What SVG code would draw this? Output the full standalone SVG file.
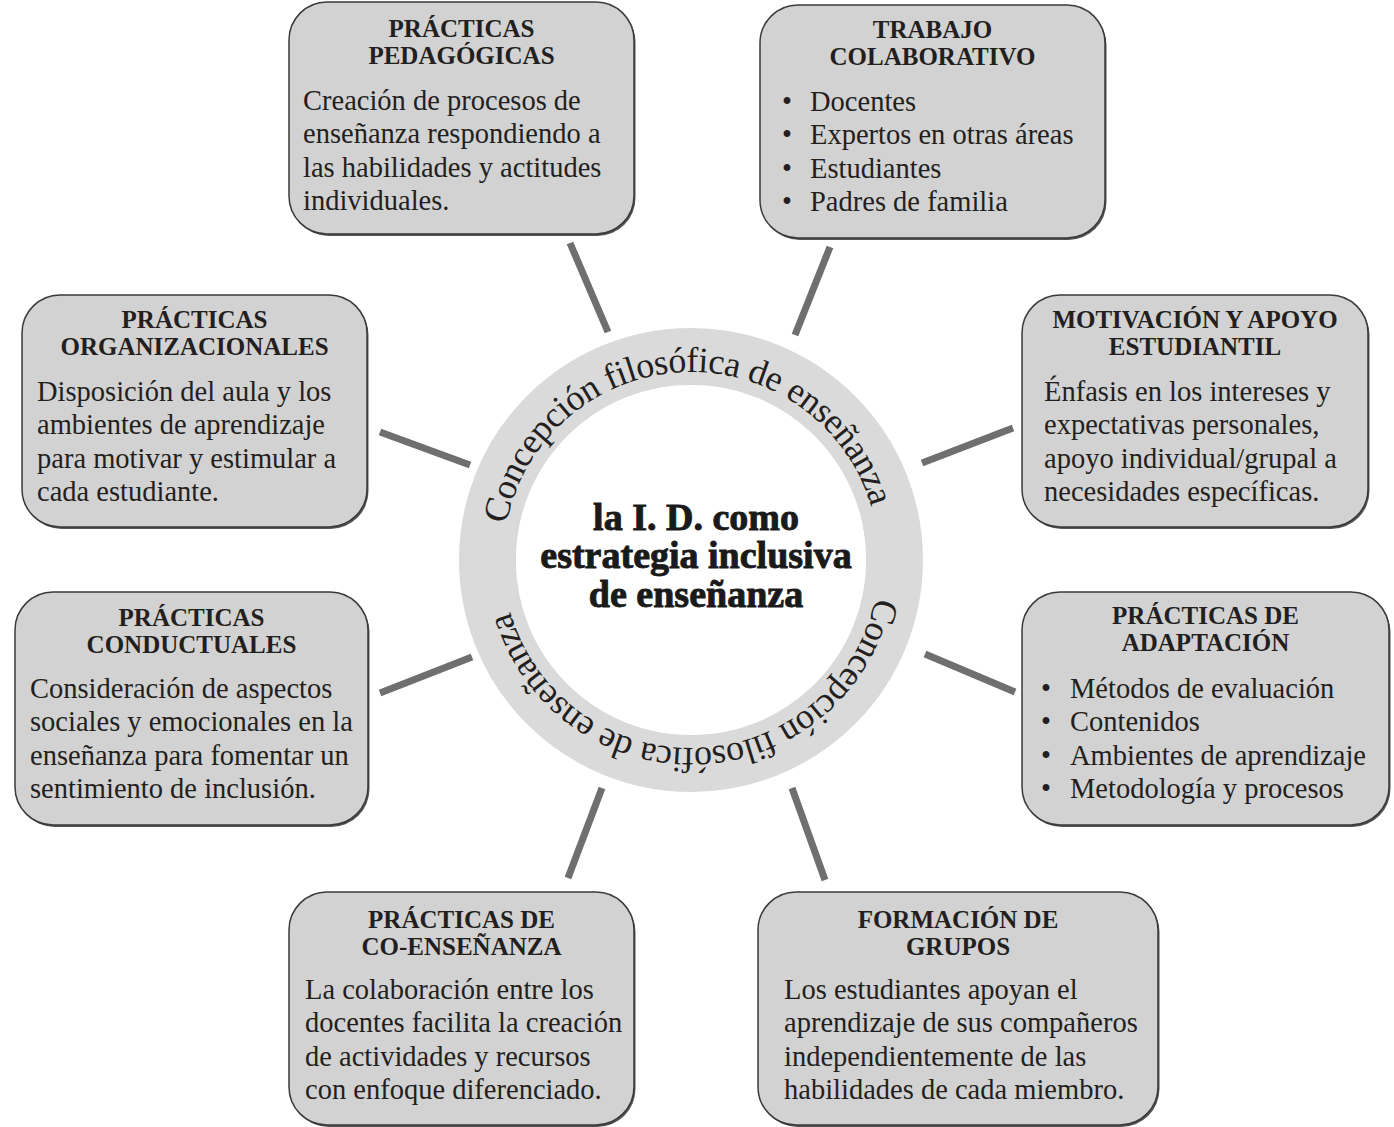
<svg xmlns="http://www.w3.org/2000/svg" width="1394" height="1127" viewBox="0 0 1394 1127">
<style>
.box{fill:#d2d2d2;stroke:#3a3a3a;stroke-width:1.5}
.sh{fill:#555}
.t{font-family:"Liberation Serif",serif;font-weight:bold;font-size:25px;fill:#231f20;text-anchor:middle}
.b{font-family:"Liberation Serif",serif;font-size:28.5px;fill:#231f20}
.conn line{stroke:#6f6f6f;stroke-width:7;stroke-linecap:butt}
.ring{font-family:"Liberation Serif",serif;font-size:36px;letter-spacing:-0.5px;fill:#231f20}
.ctr{font-family:"Liberation Serif",serif;font-weight:bold;font-size:38px;fill:#1a1a1a;stroke:#1a1a1a;stroke-width:0.9;text-anchor:middle}
</style>
<defs>
<path id="ringpath" d="M 503,560 A 188 188 0 1 1 879,560 A 188 188 0 1 1 503,560"/>
</defs>
<rect width="1394" height="1127" fill="#ffffff"/>

<g id="connectors" class="conn">
<line x1="570" y1="243" x2="608" y2="332"/>
<line x1="830" y1="247" x2="795" y2="335"/>
<line x1="1013" y1="428" x2="922" y2="463"/>
<line x1="925" y1="654" x2="1015" y2="692"/>
<line x1="792" y1="788" x2="825" y2="880"/>
<line x1="602" y1="788" x2="568" y2="878"/>
<line x1="472" y1="657" x2="380" y2="693"/>
<line x1="380" y1="432" x2="470" y2="465"/>
</g>

<g id="center">
<circle cx="691" cy="560" r="203.5" fill="none" stroke="#dadada" stroke-width="57"/>
<circle cx="691" cy="560" r="175" fill="#ffffff"/>
<text class="ring"><textPath href="#ringpath" startOffset="36">Concepción filosófica de enseñanza</textPath></text>
<text class="ring"><textPath href="#ringpath" startOffset="628">Concepción filosófica de enseñanza</textPath></text>
<text class="ctr" x="696" y="530">la I. D. como</text>
<text class="ctr" x="696" y="568">estrategia inclusiva</text>
<text class="ctr" x="696" y="607">de enseñanza</text>
</g>

<g id="n-pedagogicas">
<rect class="sh" x="290.5" y="4" width="345" height="232" rx="38"/>
<rect class="box" x="289" y="2" width="345" height="232" rx="38"/>
<text class="t" x="461.5" y="37">PRÁCTICAS</text>
<text class="t" x="461.5" y="64">PEDAGÓGICAS</text>
<text class="b" x="303" y="110">Creación de procesos de</text>
<text class="b" x="303" y="143.3">enseñanza respondiendo a</text>
<text class="b" x="303" y="176.6">las habilidades y actitudes</text>
<text class="b" x="303" y="210">individuales.</text>
</g>

<g id="n-colaborativo">
<rect class="sh" x="761.5" y="7" width="345" height="233" rx="38"/>
<rect class="box" x="760" y="5" width="345" height="233" rx="38"/>
<text class="t" x="932.5" y="38">TRABAJO</text>
<text class="t" x="932.5" y="65">COLABORATIVO</text>
<text class="b" x="782" y="111">•</text><text class="b" x="810" y="111">Docentes</text>
<text class="b" x="782" y="144.3">•</text><text class="b" x="810" y="144.3">Expertos en otras áreas</text>
<text class="b" x="782" y="177.6">•</text><text class="b" x="810" y="177.6">Estudiantes</text>
<text class="b" x="782" y="211">•</text><text class="b" x="810" y="211">Padres de familia</text>
</g>

<g id="n-motivacion">
<rect class="sh" x="1023.5" y="297" width="346" height="232" rx="38"/>
<rect class="box" x="1022" y="295" width="346" height="232" rx="38"/>
<text class="t" x="1195" y="328">MOTIVACIÓN Y APOYO</text>
<text class="t" x="1195" y="355">ESTUDIANTIL</text>
<text class="b" x="1044" y="401">Énfasis en los intereses y</text>
<text class="b" x="1044" y="434.3">expectativas personales,</text>
<text class="b" x="1044" y="467.6">apoyo individual/grupal a</text>
<text class="b" x="1044" y="501">necesidades específicas.</text>
</g>

<g id="n-adaptacion">
<rect class="sh" x="1023.5" y="594" width="367" height="233" rx="38"/>
<rect class="box" x="1022" y="592" width="367" height="233" rx="38"/>
<text class="t" x="1205.5" y="624">PRÁCTICAS DE</text>
<text class="t" x="1205.5" y="651">ADAPTACIÓN</text>
<text class="b" x="1041" y="698">•</text><text class="b" x="1070" y="698">Métodos de evaluación</text>
<text class="b" x="1041" y="731.3">•</text><text class="b" x="1070" y="731.3">Contenidos</text>
<text class="b" x="1041" y="764.6">•</text><text class="b" x="1070" y="764.6">Ambientes de aprendizaje</text>
<text class="b" x="1041" y="798">•</text><text class="b" x="1070" y="798">Metodología y procesos</text>
</g>

<g id="n-grupos">
<rect class="sh" x="759.5" y="894" width="400" height="233" rx="38"/>
<rect class="box" x="758" y="892" width="400" height="233" rx="38"/>
<text class="t" x="958" y="928">FORMACIÓN DE</text>
<text class="t" x="958" y="955">GRUPOS</text>
<text class="b" x="784" y="999">Los estudiantes apoyan el</text>
<text class="b" x="784" y="1032.3">aprendizaje de sus compañeros</text>
<text class="b" x="784" y="1065.6">independientemente de las</text>
<text class="b" x="784" y="1099">habilidades de cada miembro.</text>
</g>

<g id="n-coensenanza">
<rect class="sh" x="290.5" y="894" width="345" height="233" rx="38"/>
<rect class="box" x="289" y="892" width="345" height="233" rx="38"/>
<text class="t" x="461.5" y="928">PRÁCTICAS DE</text>
<text class="t" x="461.5" y="955">CO-ENSEÑANZA</text>
<text class="b" x="305" y="999">La colaboración entre los</text>
<text class="b" x="305" y="1032.3">docentes facilita la creación</text>
<text class="b" x="305" y="1065.6">de actividades y recursos</text>
<text class="b" x="305" y="1099">con enfoque diferenciado.</text>
</g>

<g id="n-conductuales">
<rect class="sh" x="16.5" y="594" width="353" height="233" rx="38"/>
<rect class="box" x="15" y="592" width="353" height="233" rx="38"/>
<text class="t" x="191.5" y="626">PRÁCTICAS</text>
<text class="t" x="191.5" y="653">CONDUCTUALES</text>
<text class="b" x="30" y="698">Consideración de aspectos</text>
<text class="b" x="30" y="731.3">sociales y emocionales en la</text>
<text class="b" x="30" y="764.6">enseñanza para fomentar un</text>
<text class="b" x="30" y="798">sentimiento de inclusión.</text>
</g>

<g id="n-organizacionales">
<rect class="sh" x="23.5" y="297" width="345" height="232" rx="38"/>
<rect class="box" x="22" y="295" width="345" height="232" rx="38"/>
<text class="t" x="194.5" y="328">PRÁCTICAS</text>
<text class="t" x="194.5" y="355">ORGANIZACIONALES</text>
<text class="b" x="37" y="401">Disposición del aula y los</text>
<text class="b" x="37" y="434.3">ambientes de aprendizaje</text>
<text class="b" x="37" y="467.6">para motivar y estimular a</text>
<text class="b" x="37" y="501">cada estudiante.</text>
</g>
</svg>
